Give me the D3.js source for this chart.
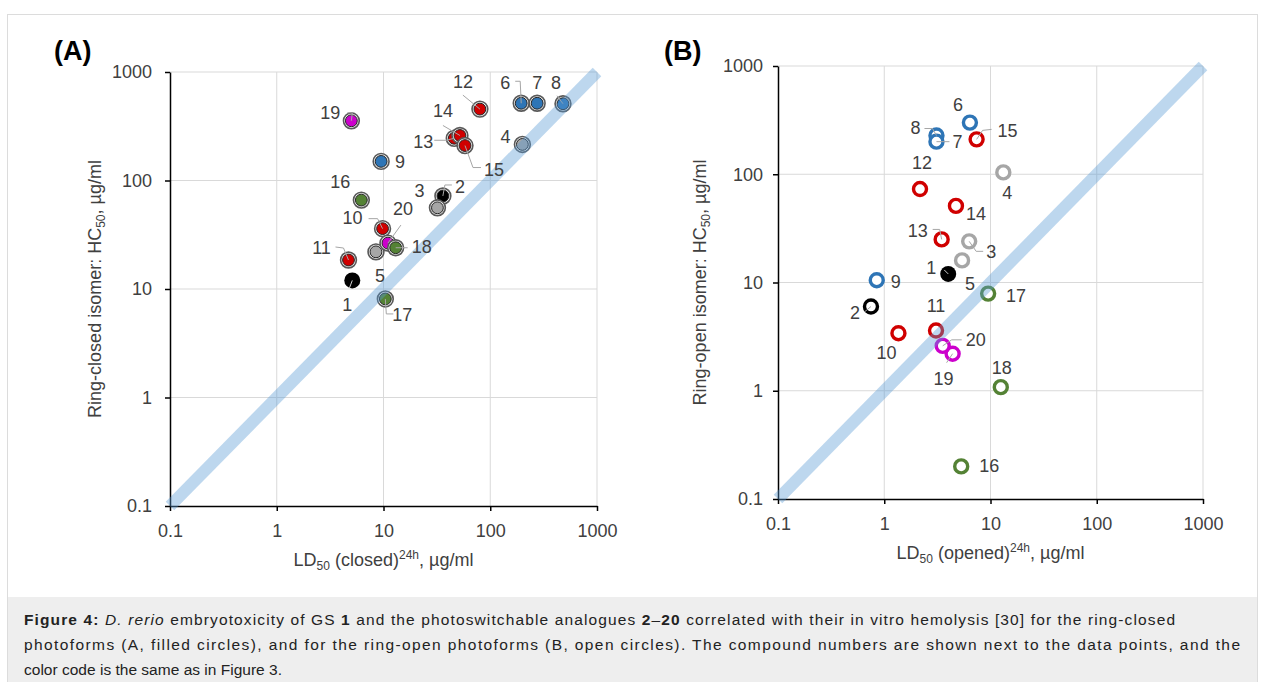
<!DOCTYPE html>
<html><head><meta charset="utf-8">
<script src="https://cdn.jsdelivr.net/npm/d3@7"></script>
<style>
html,body{margin:0;padding:0;background:#fff;}
svg{display:block;font-family:"Liberation Sans",Arial,sans-serif;}
</style></head>
<body>
<svg id="c" width="1265" height="682"></svg>
<script>
// ---------- data ----------
const compounds = [1,2,3,4,5,6,7,8,9,10,11,12,13,14,15,16,17,18,19,20];
const groups = ["black","black","gray","gray","gray","blue","blue","blue","blue","red","red","red","red","red","red","green","green","green","magenta","magenta"];
const closedLD50 = [5.1,36,32,200,8.5,195,275,480,9.5,9.8,4.7,80,46,52,58,6.2,10.4,13,5,11];
const closedHC50 = [12,72,56,215,22,515,515,510,150,36,18.5,455,245,260,210,66,8.1,24,355,26.5];
const openLD50 = [4.0,0.75,6.3,13.2,5.4,6.4,3.1,3.1,0.85,1.36,3.07,2.17,3.47,4.73,7.4,5.3,9.5,12.5,4.4,3.55];
const openHC50 = [12,6,24,104,16,300,200,228,10.5,3.4,3.6,73,25,51,210,0.2,7.9,1.08,2.2,2.6];
const tickValues = [0.1,1,10,100,1000];
const tickLabels = ["0.1","1","10","100","1000"];

// ---------- styles / layout ----------
const colors = {black:"#000000",gray:"#a6a6a6",blue:"#2e75b6",red:"#d00000",green:"#548235",magenta:"#cc00cc"};
const textColor = "#404040";
const labA = {1:[-5,24],2:[17,-9],3:[-18,-17],4:[-17,-8],5:[4,24],6:[-16,-21],7:[0,-21],8:[-7,-21],9:[19,0],10:[-30,-11],
  11:[-27,-12],12:[-17,-27],13:[-31,3],14:[-17,-25],15:[29,24],16:[-21,-18],17:[17,16],18:[26,-1],19:[-21,-8],20:[15,-34]};
const leadA = {1:[[-3,8],[0,0]],2:[[9,-11],[2,-11],[0,0]],6:[[-6,-22],[-1,-22],[0,0]],8:[[-6,-8],[0,0]],
  10:[[-14,-10],[-5,-10],[0,0]],11:[[-13,-13],[-5,-12],[0,0]],12:[[-17,-14],[0,0]],13:[[-20,2],[-8,2],[0,0]],
  14:[[-17,-10],[0,0]],15:[[0,0],[8,22],[16,22]],17:[[0,0],[1,15],[8,15]],18:[[0,0],[12,0]],19:[[-4,-8],[1,-8],[0,0]],20:[[13,-18],[0,0]]};
const labB = {1:[-17,-6],2:[-16,6],3:[22,10],4:[4,20],5:[8,23],6:[-12,-18],7:[21,0],8:[-21,-8],9:[19,1],10:[-12,19],
  11:[0,-25],12:[2,-26],13:[-24,-9],14:[20,8],15:[31,-9],16:[28,-1],17:[28,2],18:[1,-19],19:[-9,25],20:[33,-6]};
const leadB = {1:[[-4,-4],[0,0]],2:[[-6,5],[0,0]],3:[[0,0],[7,10],[14,10]],7:[[0,0],[13,0]],8:[[-12,-7],[-4,-7],[0,0]],
  13:[[-9,-10],[-2,-10],[0,0]],15:[[15,-10],[6,-9],[0,0]],19:[[-6,9],[0,0]],20:[[19,-6],[9,-6],[0,0]]};
const orderA = [1,2,3,4,5,6,7,8,9,10,11,12,13,14,15,16,17,19,20,18];
const orderB = [1,2,3,4,5,6,8,7,9,10,11,12,13,14,15,16,17,18,19,20];

const svg = d3.select("#c");

// frame & caption
svg.append("rect").attr("x",7.5).attr("y",14.5).attr("width",1250).attr("height",680).attr("fill","#fff").attr("stroke","#dcdcdc");
svg.append("rect").attr("x",8).attr("y",597).attr("width",1249).attr("height",85).attr("fill","#eeeeee");
const capLines = [
  [["Figure 4:","b"],[" ",""],["D. rerio","i"],[" embryotoxicity of GS ",""],["1","b"],[" and the photoswitchable analogues ",""],["2","b"],["–",""],["20","b"],[" correlated with their in vitro hemolysis [30] for the ring-closed",""]],
  [["photoforms (A, filled circles), and for the ring-open photoforms (B, open circles). The compound numbers are shown next to the data points, and the",""]],
  [["color code is the same as in Figure 3.",""]]
];
const capWidths = [1151,1216,258];
capLines.forEach((ln,i)=>{
  const t = svg.append("text").attr("x",24).attr("y",625+i*25).attr("font-size",15.5).attr("fill","#222")
    .attr("textLength",capWidths[i]).attr("lengthAdjust","spacing");
  ln.forEach(([s,st])=>{
    const ts = t.append("tspan").text(s);
    if(st==="b") ts.attr("font-weight","bold");
    if(st==="i") ts.attr("font-style","italic");
  });
});

function panel(cfg){
  const x = d3.scaleLog().domain([0.1,1000]).range(cfg.xr);
  const y = d3.scaleLog().domain([0.1,1000]).range(cfg.yr);
  const g = svg.append("g");
  g.selectAll(".gx").data(tickValues.slice(1)).enter().append("line")
    .attr("x1",d=>x(d)).attr("x2",d=>x(d)).attr("y1",cfg.yr[0]).attr("y2",cfg.yr[1])
    .attr("stroke","#d9d9d9").attr("stroke-width",1);
  g.selectAll(".gy").data(tickValues.slice(1)).enter().append("line")
    .attr("y1",d=>y(d)).attr("y2",d=>y(d)).attr("x1",cfg.xr[0]).attr("x2",cfg.xr[1])
    .attr("stroke","#d9d9d9").attr("stroke-width",1);
  const fmt = d=>tickLabels[tickValues.indexOf(d)];
  const ax = g.append("g").attr("transform",`translate(0,${cfg.yr[0]})`)
    .call(d3.axisBottom(x).tickValues(tickValues).tickFormat(fmt).tickSize(5).tickPadding(13).tickSizeOuter(0));
  const ay = g.append("g").attr("transform",`translate(${cfg.xr[0]},0)`)
    .call(d3.axisLeft(y).tickValues(tickValues).tickFormat(fmt).tickSize(5).tickPadding(cfg.ypad).tickSizeOuter(0));
  [ax,ay].forEach(a=>{
    a.select(".domain").attr("stroke","#000").attr("stroke-width",1.5);
    a.selectAll(".tick line").attr("stroke","#000").attr("stroke-width",1.5);
    a.selectAll("text").attr("font-size",18).attr("fill",textColor).attr("font-family","Liberation Sans, Arial, sans-serif");
  });
  const xt = g.append("text").attr("x",(cfg.xr[0]+cfg.xr[1])/2).attr("y",cfg.yr[0]+cfg.xtOff)
    .attr("text-anchor","middle").attr("font-size",18).attr("fill",textColor);
  xt.append("tspan").text("LD");
  xt.append("tspan").text("50").attr("font-size",12).attr("dy",4);
  xt.append("tspan").text(` (${cfg.xword})`).attr("dy",-4);
  xt.append("tspan").text("24h").attr("font-size",12).attr("dy",-7);
  xt.append("tspan").text(", µg/ml").attr("dy",7);
  const yt = g.append("text").attr("transform",`translate(${cfg.ytX},${(cfg.yr[0]+cfg.yr[1])/2}) rotate(-90)`)
    .attr("text-anchor","middle").attr("font-size",18).attr("fill",textColor);
  yt.append("tspan").text(`Ring-${cfg.yword} isomer: HC`);
  yt.append("tspan").text("50").attr("font-size",12).attr("dy",4);
  yt.append("tspan").text(", µg/ml").attr("dy",-4);
  g.append("text").attr("x",cfg.pl[0]).attr("y",cfg.pl[1]).attr("font-size",27).attr("font-weight","bold").attr("fill","#000").text(cfg.plText);

  const pts = cfg.order.map(c=>{const i=compounds.indexOf(c);return {c, grp:groups[i], px:x(cfg.xs[i]), py:y(cfg.ys[i])};});
  const mg = g.append("g");
  pts.forEach(p=>{
    const col = colors[p.grp];
    if(p.c===1){
      mg.append("circle").attr("cx",p.px).attr("cy",p.py).attr("r",8).attr("fill","#000");
    } else if(cfg.filled){
      mg.append("circle").attr("cx",p.px).attr("cy",p.py).attr("r",7.9).attr("fill","#f2f2f2").attr("stroke","#595959").attr("stroke-width",1.6);
      mg.append("circle").attr("cx",p.px).attr("cy",p.py).attr("r",5.9).attr("fill",col).attr("stroke","#262626").attr("stroke-width",1);
    } else {
      mg.append("circle").attr("cx",p.px).attr("cy",p.py).attr("r",6.5).attr("fill","#fff").attr("stroke",col).attr("stroke-width",3.4);
    }
  });
  const line = d3.line();
  pts.forEach(p=>{
    const L = cfg.lead[p.c]; if(!L) return;
    g.append("path").attr("d",line(L.map(([dx,dy])=>[p.px+dx,p.py+dy]))).attr("fill","none")
      .attr("stroke",p.c===1?"#d0d0d0":"#a6a6a6").attr("stroke-width",1);
  });
  g.append("line").attr("x1",x(0.1)).attr("y1",y(0.1)).attr("x2",x(1000)).attr("y2",y(1000))
    .attr("stroke","#5b9bd5").attr("stroke-opacity",0.4).attr("stroke-width",12);
  pts.forEach(p=>{
    const o = cfg.lab[p.c];
    g.append("text").attr("x",p.px+o[0]).attr("y",p.py+o[1]).attr("dy","0.35em").attr("text-anchor","middle")
      .attr("font-size",18).attr("fill",textColor).text(p.c);
  });
}

panel({xr:[170,597],yr:[506,72],xs:closedLD50,ys:closedHC50,filled:true,lab:labA,lead:leadA,order:orderA,
  xword:"closed",yword:"closed",xtOff:60,ytX:101,ypad:13,pl:[54,60],plText:"(A)"});
panel({xr:[778,1203],yr:[499,66],xs:openLD50,ys:openHC50,filled:false,lab:labB,lead:leadB,order:orderB,
  xword:"opened",yword:"open",xtOff:60,ytX:706,ypad:10,pl:[664,60],plText:"(B)"});
</script>
</body></html>
